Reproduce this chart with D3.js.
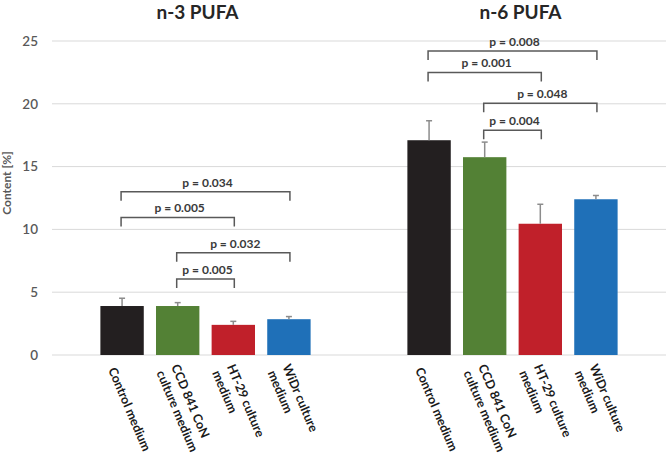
<html>
<head>
	<script src="https://cdnjs.cloudflare.com/ajax/libs/d3/7.8.5/d3.min.js"></script>
</head>
<body style="margin:0; padding:0; background:#fff;">
	<script>
	// data
	var groups = ["n-3 PUFA", "n-6 PUFA"];
	var media = ["Control medium", "CCD 841 CoN culture medium", "HT-29 culture medium", "WiDr culture medium"];
	var mediaLines = [["Control medium"], ["CCD 841 CoN", "culture medium"], ["HT-29 culture", "medium"], ["WiDr culture", "medium"]];
	var n3Values = [3.9, 3.9, 2.4, 2.85];
	var n3Errors = [0.62, 0.27, 0.28, 0.21];
	var n6Values = [17.1, 15.75, 10.45, 12.4];
	var n6Errors = [1.55, 1.2, 1.55, 0.3];
	var yTicks = [0, 5, 10, 15, 20, 25];
	// brackets: [from, to, level, label]
	var n3Brackets = [[0, 3, 13.0, "p = 0.034"], [0, 2, 10.95, "p = 0.005"], [1, 3, 8.15, "p = 0.032"], [1, 2, 6.05, "p = 0.005"]];
	var n6Brackets = [[0, 3, 24.2, "p = 0.008"], [0, 2, 22.5, "p = 0.001"], [1, 3, 20.05, "p = 0.048"], [1, 2, 17.9, "p = 0.004"]];

	var colors = ["#231f20", "#538135", "#c0202a", "#1f70b8"];

	var width = 666, height = 456;
	var plotLeft = 52, plotRight = 666, plotTop = 41, plotBottom = 355;

	var svg = d3.select("body").append("svg")
		.attr("width", width)
		.attr("height", height)
		.style("font-family", "Lato, 'Open Sans', sans-serif");

	var y = d3.scaleLinear().domain([0, 25]).range([plotBottom, plotTop]);
	var x0 = d3.scaleBand().domain(groups).range([plotLeft, plotRight]);
	var x1 = d3.scaleBand().domain(media).range([0, x0.bandwidth()]).paddingInner(0.22).paddingOuter(0.87);

	// gridlines
	svg.append("g").selectAll("line").data(yTicks).enter().append("line")
		.attr("x1", plotLeft).attr("x2", plotRight)
		.attr("y1", function (d) { return y(d); })
		.attr("y2", function (d) { return y(d); })
		.attr("stroke", "#d9d9d9").attr("stroke-width", 1);

	// y axis labels
	var yAxis = d3.axisLeft(y).tickValues(yTicks).tickSize(0).tickPadding(14);
	var ya = svg.append("g").attr("transform", "translate(" + plotLeft + ",0)").call(yAxis);
	ya.select(".domain").remove();
	ya.selectAll("text").style("font-size", "13.5px").style("font-weight", "600").attr("fill", "#595959")
		.style("font-family", "Lato, 'Open Sans', sans-serif");

	svg.append("text")
		.attr("transform", "translate(11,183) rotate(-90)")
		.attr("text-anchor", "middle")
		.style("font-size", "12px").style("font-weight", "bold").attr("fill", "#595959")
		.text("Content [%]");

	var sets = [
		{ name: groups[0], values: n3Values, errors: n3Errors, brackets: n3Brackets, titleShift: -8 },
		{ name: groups[1], values: n6Values, errors: n6Errors, brackets: n6Brackets, titleShift: 8 }
	];

	sets.forEach(function (s) {
		var g = svg.append("g").attr("transform", "translate(" + x0(s.name) + ",0)");
		var cx = function (i) { return x1(media[i]) + x1.bandwidth() / 2; };

		g.selectAll("rect").data(s.values).enter().append("rect")
			.attr("x", function (d, i) { return x1(media[i]); })
			.attr("y", function (d) { return y(d); })
			.attr("width", x1.bandwidth())
			.attr("height", function (d) { return y(0) - y(d); })
			.attr("fill", function (d, i) { return colors[i]; });

		// error bars (upper only)
		var eb = g.selectAll("g.err").data(s.values).enter().append("g").attr("class", "err");
		eb.append("line")
			.attr("x1", function (d, i) { return cx(i); }).attr("x2", function (d, i) { return cx(i); })
			.attr("y1", function (d) { return y(d); })
			.attr("y2", function (d, i) { return y(d + s.errors[i]); })
			.attr("stroke", "#8c8c8c").attr("stroke-width", 1.5);
		eb.append("line")
			.attr("x1", function (d, i) { return cx(i) - 3; }).attr("x2", function (d, i) { return cx(i) + 3; })
			.attr("y1", function (d, i) { return y(d + s.errors[i]); })
			.attr("y2", function (d, i) { return y(d + s.errors[i]); })
			.attr("stroke", "#8c8c8c").attr("stroke-width", 1.5);

		// significance brackets
		var br = g.selectAll("g.br").data(s.brackets).enter().append("g").attr("class", "br");
		br.append("path")
			.attr("d", function (d) {
				var a = cx(d[0]) - 1, b = cx(d[1]) + 1, l = y(d[2]);
				return "M" + a + "," + (l + 9) + "V" + l + "H" + b + "V" + (l + 9);
			})
			.attr("fill", "none").attr("stroke", "#595959").attr("stroke-width", 1.5);
		br.append("text")
			.attr("x", function (d) { return (cx(d[0]) + cx(d[1])) / 2 + 2; })
			.attr("y", function (d) { return y(d[2]) - 5; })
			.attr("text-anchor", "middle")
			.style("font-size", "12px").style("font-weight", "bold").attr("fill", "#3a3a3a")
			.text(function (d) { return d[3]; });

		// title
		g.append("text")
			.attr("x", x0.bandwidth() / 2 + s.titleShift)
			.attr("y", 19)
			.attr("text-anchor", "middle")
			.style("font-size", "19px").style("font-weight", "bold").attr("fill", "#262626")
			.text(s.name);

		// category labels
		var lab = g.selectAll("text.cat").data(mediaLines).enter().append("text")
			.attr("class", "cat")
			.attr("transform", function (d, i) { return "translate(" + (cx(i) - 10) + ",368) rotate(67)"; })
			.style("font-size", "12.5px").style("font-weight", "bold").attr("fill", "#1a1a1a");
		lab.selectAll("tspan").data(function (d) { return d; }).enter().append("tspan")
			.attr("x", 0)
			.attr("y", function (d, k, nodes) { return (k - (nodes.length - 1) / 2) * 16; })
			.attr("dy", "0.35em")
			.text(function (d) { return d; });
	});
	</script>
</body>
</html>
